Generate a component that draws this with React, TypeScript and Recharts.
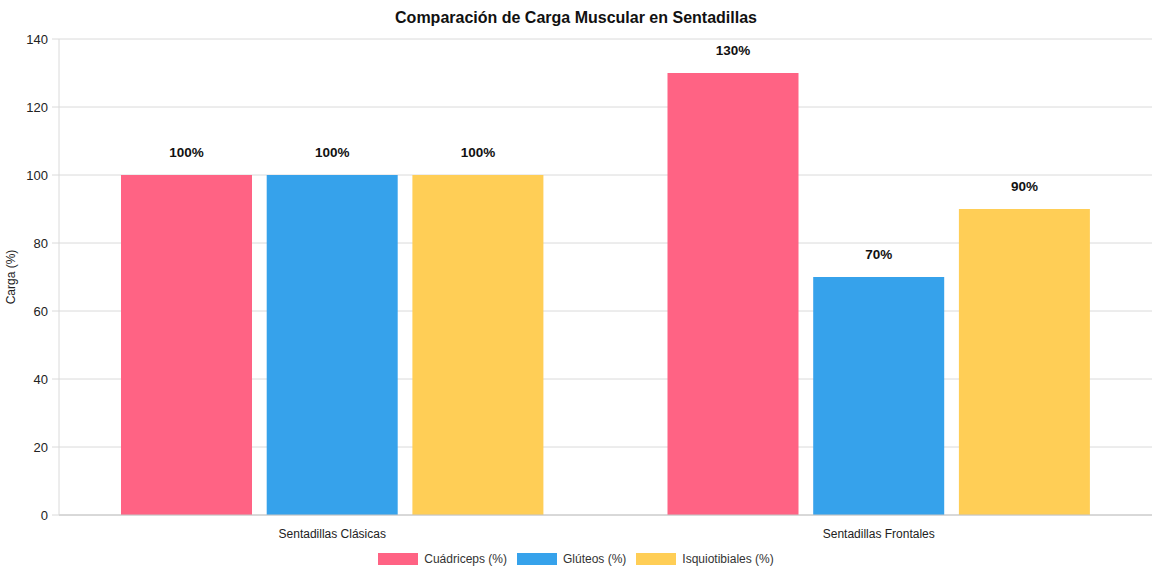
import React from 'react';
import { BarChart, Bar, XAxis, YAxis, CartesianGrid, Legend, LabelList } from 'recharts';

const categories = ['Sentadillas Clásicas', 'Sentadillas Frontales'];
const cuadriceps = [100, 130];
const gluteos = [100, 70];
const isquiotibiales = [100, 90];
const yTicks = [0, 20, 40, 60, 80, 100, 120, 140];

const seriesDefs = [
  { key: 'cuadriceps', name: 'Cuádriceps (%)', color: '#FF6384' },
  { key: 'gluteos', name: 'Glúteos (%)', color: '#36A2EB' },
  { key: 'isquiotibiales', name: 'Isquiotibiales (%)', color: '#FFCE56' },
];

const data = categories.map((c, i) => ({
  category: c,
  cuadriceps: cuadriceps[i],
  gluteos: gluteos[i],
  isquiotibiales: isquiotibiales[i],
}));

const FONT = '"Liberation Sans", Arial, Helvetica, sans-serif';

const LegendContent = () => (
  <div style={{ display: 'flex', justifyContent: 'center', alignItems: 'center', fontFamily: FONT, fontSize: 12, color: '#333' }}>
    {seriesDefs.map((s, i) => (
      <div key={s.key} style={{ display: 'flex', alignItems: 'center', marginLeft: i === 0 ? 0 : 10 }}>
        <span style={{ display: 'inline-block', width: 40, height: 12, background: s.color, marginRight: 6 }} />
        <span>{s.name}</span>
      </div>
    ))}
  </div>
);

const YLabel = (props: any) => {
  const vb = props.viewBox || {};
  const cx = 11;
  const cy = (vb.y || 0) + (vb.height || 0) / 2;
  return (
    <text x={cx} y={cy} transform={`rotate(-90, ${cx}, ${cy})`} textAnchor="middle" dominantBaseline="central" fontSize={12} fontFamily={FONT} fill="#222">
      Carga (%)
    </text>
  );
};

const pctFormatter = (v: any) => `${v}%`;

export default function App() {
  return (
    <div style={{ position: 'absolute', left: 0, top: 0, width: 1152, height: 576, background: '#fff' }}>
      <div style={{ position: 'absolute', left: 0, top: 8, width: 1152, textAlign: 'center', fontFamily: FONT, fontWeight: 'bold', fontSize: 16, color: '#111', lineHeight: '20px' }}>
        Comparación de Carga Muscular en Sentadillas
      </div>
      <BarChart
        width={1152}
        height={576}
        data={data}
        margin={{ top: 39, right: 0, left: 0, bottom: 31 }}
        barGap={14.7}
        barSize={131}
      >
        <CartesianGrid vertical={false} stroke="#dadada" />
        <XAxis
          dataKey="category"
          height={30}
          tickLine={false}
          tickMargin={8}
          axisLine={{ stroke: '#c4c4c4' }}
          tick={{ fontSize: 12, fontFamily: FONT, fill: '#222' }}
        />
        <YAxis
          width={59}
          domain={[0, 140]}
          ticks={yTicks}
          interval={0}
          tickSize={7}
          tickMargin={4}
          axisLine={{ stroke: '#dadada' }}
          tickLine={{ stroke: '#dadada' }}
          tick={{ fontSize: 13, fontFamily: FONT, fill: '#222' }}
          label={<YLabel />}
        />
        <Legend
          verticalAlign="middle"
          align="center"
          layout="horizontal"
          content={<LegendContent />}
          wrapperStyle={{ position: 'absolute', top: 552, left: 0, width: 1152, height: 16 }}
        />
        {seriesDefs.map((s) => (
          <Bar key={s.key} dataKey={s.key} name={s.name} fill={s.color} isAnimationActive={false}>
            <LabelList
              dataKey={s.key}
              position="top"
              offset={18.5}
              formatter={pctFormatter}
              style={{ fontSize: 13.5, fontWeight: 'bold', fontFamily: FONT, fill: '#111' }}
            />
          </Bar>
        ))}
      </BarChart>
    </div>
  );
}
